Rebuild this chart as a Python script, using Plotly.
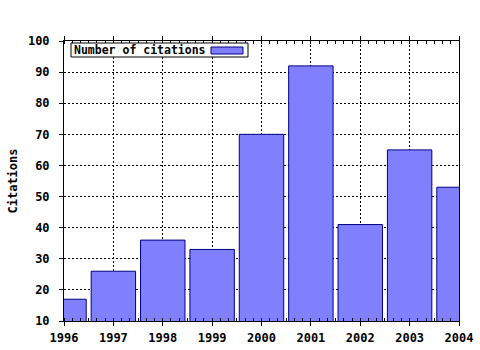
import plotly.graph_objects as go

years = [1996, 1997, 1998, 1999, 2000, 2001, 2002, 2003, 2004]
citations = [17, 26, 36, 33, 70, 92, 41, 65, 53]
series_name = "Number of citations"
y_title = "Citations"

W, H = 480, 350
L, R, T, B = 64, 21, 41, 29
pw, ph = W - L - R, H - T - B

def px_x(p):
    return (p - L) / pw

def px_y(p):
    return (H - B - p) / ph

font = dict(family="DejaVu Sans Mono", size=12, color="black", weight="bold")

fig = go.Figure()
fig.add_trace(go.Bar(
    x=years, y=citations, name=series_name, width=0.9,
    marker=dict(color="#8080ff", line=dict(color="#000080", width=1)),
    showlegend=False,
))

fig.update_layout(
    width=W, height=H,
    margin=dict(l=L, r=R, t=T, b=B, pad=0, autoexpand=False),
    paper_bgcolor="white", plot_bgcolor="white",
    font=font,
    xaxis=dict(
        range=[1996, 2004], tick0=1996, dtick=1, tickmode="linear",
        showline=True, linecolor="black", linewidth=1, mirror="allticks",
        ticks="outside", ticklen=4, tickcolor="black",
        showgrid=True, gridcolor="black", gridwidth=1, griddash="2px,2px",
        minor=dict(dtick=1/6, tick0=1996, ticks="inside", ticklen=3, tickcolor="black", showgrid=False),
        zeroline=False, tickfont=font, ticklabelstandoff=2, automargin=False,
    ),
    yaxis=dict(
        range=[10, 100], tick0=10, dtick=10, tickmode="linear",
        showline=True, linecolor="black", linewidth=1, mirror=True,
        ticks="outside", ticklen=4, tickcolor="black",
        showgrid=True, gridcolor="black", gridwidth=1, griddash="2px,2px",
        zeroline=False, tickfont=font, ticklabelstandoff=7, automargin=False,
        title=dict(text=y_title, font=font, standoff=7),
    ),
    bargap=0.1,
)

# custom legend (text then swatch, as in the reference)
fig.add_shape(
    type="rect", xref="paper", yref="paper",
    x0=px_x(71), x1=px_x(248), y0=px_y(57), y1=px_y(43),
    fillcolor="white", line=dict(color="black", width=1), layer="above",
)
fig.add_shape(
    type="rect", xref="paper", yref="paper",
    x0=px_x(211), x1=px_x(243), y0=px_y(54), y1=px_y(47),
    fillcolor="#8080ff", line=dict(color="#000080", width=1), layer="above",
)
fig.add_annotation(
    xref="paper", yref="paper", x=px_x(72), y=px_y(50),
    xanchor="left", yanchor="middle", showarrow=False,
    text=series_name, align="left",
    font=dict(family="DejaVu Sans Mono", size=11.5, color="black", weight="bold"),
)

fig.write_html("out.html")
